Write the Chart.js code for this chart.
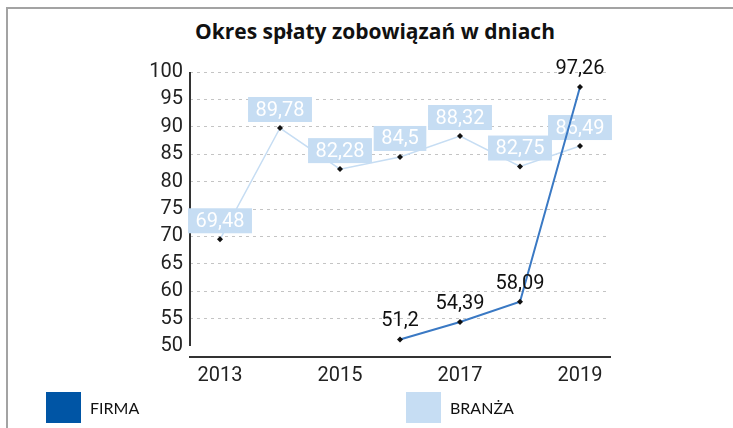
<!DOCTYPE html>
<html>
<head>
<meta charset="utf-8">
<script src="https://cdn.jsdelivr.net/npm/chart.js@4.4.1/dist/chart.umd.min.js"></script>
<style>
  html, body { margin: 0; padding: 0; background: #fff; }
  #wrap { position: relative; width: 733px; height: 428px; overflow: hidden; }
  #frame { position: absolute; left: 6px; top: 7px; width: 760px; height: 460px;
           border-top: 2px solid #a3a3a3; border-left: 2px solid #a3a3a3; }
  #title { position: absolute; left: 0; width: 750px; top: 18px; line-height: 26px; text-align: center;
           font-family: 'Open Sans', sans-serif; font-weight: bold; font-size: 21px; color: #111; }
  canvas { position: absolute; left: 0; top: 0; }
  .sw { position: absolute; top: 392px; width: 35px; height: 31px; }
  .lbl { position: absolute; top: 398px; font: 16px Lato, sans-serif; color: #111; }
</style>
</head>
<body>
<div id="wrap">
  <div id="frame"></div>
  <div id="title">Okres spłaty zobowiązań w dniach</div>
  <canvas id="myChart" width="733" height="428"></canvas>
  <div class="sw" style="left:46px;background:#0055a5"></div>
  <div class="lbl" style="left:90px">FIRMA</div>
  <div class="sw" style="left:406px;background:#c6ddf3"></div>
  <div class="lbl" style="left:450px">BRANŻA</div>
</div>
<script>
'use strict';

// ******** DATA **********

let years = ['2013', '2014', '2015', '2016', '2017', '2018', '2019'];
let firmaValues = [null, null, null, 51.2, 54.39, 58.09, 97.26];
let branzaValues = [69.48, 89.78, 82.28, 84.5, 88.32, 82.75, 86.49];
let yTicks = [50, 55, 60, 65, 70, 75, 80, 85, 90, 95, 100];

let tickFont = 'Roboto, sans-serif';

function fmt(v) {
  return String(v).replace('.', ',');
}

// ********** PLUGINS ***********

// y axis line only from 50 to 100, x axis sits a bit lower
let yAxisLine = {
  id: 'yAxisLine',
  beforeDatasetsDraw(chart) {
    let ctx = chart.ctx;
    let y = chart.scales.y;
    let x = chart.chartArea.left;
    ctx.save();
    ctx.strokeStyle = '#333';
    ctx.lineWidth = 2;
    ctx.beginPath();
    ctx.moveTo(x, y.getPixelForValue(100));
    ctx.lineTo(x, y.getPixelForValue(50));
    ctx.stroke();
    ctx.restore();
  }
};

let valueLabels = {
  id: 'valueLabels',
  afterDatasetDraw(chart, args) {
    if (args.index !== 1) return;
    let ctx = chart.ctx;
    ctx.save();
    ctx.font = '20px ' + tickFont;
    ctx.textAlign = 'center';
    ctx.textBaseline = 'middle';
    args.meta.data.forEach(function (pt, i) {
      let txt = fmt(branzaValues[i]);
      let w = ctx.measureText(txt).width + 15;
      let h = 25;
      let bottom = pt.y - 6;
      ctx.fillStyle = '#c6ddf3';
      ctx.fillRect(pt.x - w / 2, bottom - h, w, h);
      ctx.fillStyle = '#fff';
      ctx.fillText(txt, pt.x, bottom - h / 2 + 1);
    });
    ctx.restore();
  },
  afterDatasetsDraw(chart) {
    let ctx = chart.ctx;
    let meta = chart.getDatasetMeta(0);
    ctx.save();
    ctx.font = '20px ' + tickFont;
    ctx.textAlign = 'center';
    ctx.textBaseline = 'middle';
    ctx.fillStyle = '#111';
    meta.data.forEach(function (pt, i) {
      if (firmaValues[i] === null) return;
      ctx.fillText(fmt(firmaValues[i]), pt.x, pt.y - 18);
    });
    ctx.restore();
  }
};

// ********** CHART *************

let ctx = document.getElementById('myChart').getContext('2d');

let myChartObj = {
  type: 'line',
  data: {
    labels: years,
    datasets: [{
      label: 'FIRMA',
      data: firmaValues,
      borderColor: '#3a79c4',
      borderWidth: 2,
      pointStyle: 'rectRot',
      pointRadius: 3,
      pointBackgroundColor: '#111',
      pointBorderWidth: 0,
      tension: 0
    },
    {
      label: 'BRANŻA',
      data: branzaValues,
      borderColor: '#c6ddf3',
      borderWidth: 1.5,
      pointStyle: 'rectRot',
      pointRadius: 3,
      pointBackgroundColor: '#111',
      pointBorderWidth: 0,
      tension: 0
    }]
  },
  options: {
    responsive: false,
    animation: false,
    layout: {
      padding: { top: 72, right: 123, left: 0, bottom: 0 }
    },
    plugins: {
      legend: { display: false },
      tooltip: { enabled: false }
    },
    scales: {
      x: {
        offset: true,
        grid: { display: false, drawTicks: false },
        border: { display: true, color: '#333', width: 2 },
        ticks: {
          autoSkip: false,
          maxRotation: 0,
          padding: 7,
          color: '#222',
          font: { family: tickFont, size: 20 },
          callback: function (v, i) {
            return i % 2 === 0 ? years[i] : '';
          }
        },
        afterFit: function (scale) {
          scale.height = 71;
        }
      },
      y: {
        min: 48,
        max: 100,
        grid: {
          drawTicks: false,
          color: function (c) {
            return c.tick && c.tick.value === 50 ? 'rgba(0,0,0,0)' : '#c4c4c4';
          },
          lineWidth: 1
        },
        border: { display: false, dash: [3, 4] },
        ticks: {
          padding: 7,
          color: '#222',
          font: { family: tickFont, size: 20 },
          callback: function (v) { return v; }
        },
        afterBuildTicks: function (scale) {
          scale.ticks = yTicks.map(function (v) { return { value: v }; });
        },
        afterFit: function (scale) {
          scale.width = 190;
        }
      }
    }
  },
  plugins: [yAxisLine, valueLabels]
};

new Chart(ctx, myChartObj);
</script>
</body>
</html>
